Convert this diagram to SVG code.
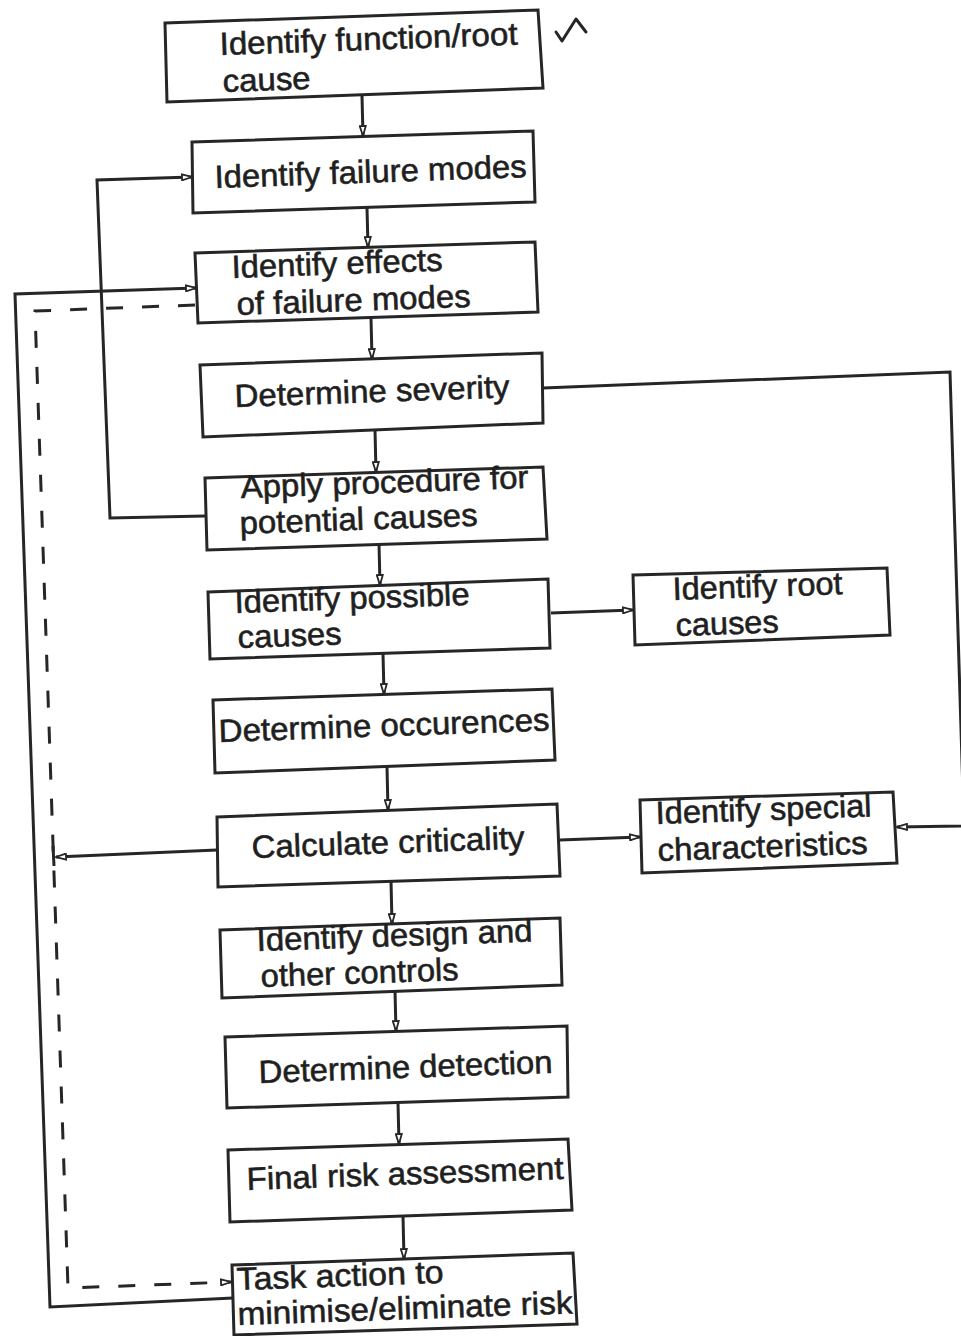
<svg xmlns="http://www.w3.org/2000/svg" width="961" height="1336" viewBox="0 0 961 1336">
  <style>
    .box { fill: none; stroke: #262626; stroke-width: 3; stroke-linejoin: miter; }
    .lbl { font-family: "Liberation Sans", Arial, sans-serif; font-size: 32px; fill: #1f1f1f; stroke: #1f1f1f; stroke-width: 0.6; }
    .wire { fill: none; stroke: #262626; stroke-width: 3; }
    .dash { fill: none; stroke: #262626; stroke-width: 3; stroke-dasharray: 17 19; }
  </style>
  <defs>
    <marker id="tip" viewBox="0 0 12 8" refX="11" refY="4" markerWidth="12" markerHeight="8" markerUnits="userSpaceOnUse" orient="auto">
      <path d="M1,1 L11,4 L1,7 Z" fill="#ffffff" stroke="#262626" stroke-width="1.8"/>
    </marker>
  </defs>

  <rect width="961" height="1336" fill="#ffffff"/>

  <!-- connectors -->
  <g id="connectors">
    <!-- main vertical chain -->
    <path class="wire" d="M362,96 L363,136" marker-end="url(#tip)"/>
    <path class="wire" d="M367,208 L368,247" marker-end="url(#tip)"/>
    <path class="wire" d="M371,318 L372,359" marker-end="url(#tip)"/>
    <path class="wire" d="M375,430 L376,472" marker-end="url(#tip)"/>
    <path class="wire" d="M379,544 L380,585" marker-end="url(#tip)"/>
    <path class="wire" d="M383,654 L384,694" marker-end="url(#tip)"/>
    <path class="wire" d="M387,767 L388,810" marker-end="url(#tip)"/>
    <path class="wire" d="M391,881 L392,924" marker-end="url(#tip)"/>
    <path class="wire" d="M395,991 L396,1031" marker-end="url(#tip)"/>
    <path class="wire" d="M398,1103 L399,1144" marker-end="url(#tip)"/>
    <path class="wire" d="M403,1216 L404,1259" marker-end="url(#tip)"/>

    <!-- potential causes loop back to failure modes -->
    <path class="wire" d="M205,516 L110,518 L97,180 L192,177" marker-end="url(#tip)"/>

    <!-- outer feedback from task action to effects -->
    <path class="wire" d="M233,1298 L50,1307 L15,294 L196,288" marker-end="url(#tip)"/>

    <!-- dashed feedback from effects to task action -->
    <path class="dash" d="M195,305 L35,311 L68,1288 L231,1282" marker-end="url(#tip)"/>

    <!-- criticality out to dashed loop -->
    <path class="wire" d="M217,850 L56,857" marker-end="url(#tip)"/>
    <path class="wire" d="M53,846 L54,866"/>

    <!-- side branches -->
    <path class="wire" d="M551,613 L633,610" marker-end="url(#tip)"/>
    <path class="wire" d="M560,840 L640,837" marker-end="url(#tip)"/>

    <!-- severity to special characteristics -->
    <path class="wire" d="M543,388 L950,372 L964,826 L897,827" marker-end="url(#tip)"/>
  </g>

  <!-- nodes -->
  <g id="n-function">
    <polygon class="box" points="165,23 538,10 543,88 167,102"/>
    <text class="lbl" x="220" y="55" textLength="298" lengthAdjust="spacingAndGlyphs" transform="rotate(-2 220 55)">Identify function/root</text>
    <text class="lbl" x="223" y="92" textLength="88" lengthAdjust="spacingAndGlyphs" transform="rotate(-2 223 92)">cause</text>
  </g>

  <g id="n-failure-modes">
    <polygon class="box" points="192,142 533,131 535,202 193,213"/>
    <text class="lbl" x="215" y="188" textLength="312" lengthAdjust="spacingAndGlyphs" transform="rotate(-2 215 188)">Identify failure modes</text>
  </g>

  <g id="n-effects">
    <polygon class="box" points="195,253 535,242 538,312 198,323"/>
    <text class="lbl" x="232" y="278" textLength="211" lengthAdjust="spacingAndGlyphs" transform="rotate(-2 232 278)">Identify effects</text>
    <text class="lbl" x="237" y="315" textLength="234" lengthAdjust="spacingAndGlyphs" transform="rotate(-2 237 315)">of failure modes</text>
  </g>

  <g id="n-severity">
    <polygon class="box" points="200,365 542,353 543,423 203,437"/>
    <text class="lbl" x="235" y="407" textLength="275" lengthAdjust="spacingAndGlyphs" transform="rotate(-2 235 407)">Determine severity</text>
  </g>

  <g id="n-procedure">
    <polygon class="box" points="205,478 543,467 547,539 207,550"/>
    <text class="lbl" x="241" y="498" textLength="288" lengthAdjust="spacingAndGlyphs" transform="rotate(-2 241 498)">Apply procedure for</text>
    <text class="lbl" x="240" y="534" textLength="238" lengthAdjust="spacingAndGlyphs" transform="rotate(-2 240 534)">potential causes</text>
  </g>

  <g id="n-possible-causes">
    <polygon class="box" points="208,592 548,579 550,648 210,659"/>
    <text class="lbl" x="235" y="613" textLength="235" lengthAdjust="spacingAndGlyphs" transform="rotate(-2 235 613)">Identify possible</text>
    <text class="lbl" x="238" y="648" textLength="104" lengthAdjust="spacingAndGlyphs" transform="rotate(-2 238 648)">causes</text>
  </g>

  <g id="n-root-causes">
    <polygon class="box" points="633,575 887,568 890,635 635,645"/>
    <text class="lbl" x="673" y="600" textLength="170" lengthAdjust="spacingAndGlyphs" transform="rotate(-2 673 600)">Identify root</text>
    <text class="lbl" x="676" y="636" textLength="103" lengthAdjust="spacingAndGlyphs" transform="rotate(-2 676 636)">causes</text>
  </g>

  <g id="n-occurences">
    <polygon class="box" points="213,700 552,689 555,760 215,773"/>
    <text class="lbl" x="219" y="742" textLength="331" lengthAdjust="spacingAndGlyphs" transform="rotate(-2 219 742)">Determine occurences</text>
  </g>

  <g id="n-criticality">
    <polygon class="box" points="217,817 557,804 560,876 218,887"/>
    <text class="lbl" x="252" y="858" textLength="273" lengthAdjust="spacingAndGlyphs" transform="rotate(-2 252 858)">Calculate criticality</text>
  </g>

  <g id="n-special">
    <polygon class="box" points="640,800 893,792 897,863 642,873"/>
    <text class="lbl" x="656" y="824" textLength="216" lengthAdjust="spacingAndGlyphs" transform="rotate(-2 656 824)">Identify special</text>
    <text class="lbl" x="658" y="861" textLength="210" lengthAdjust="spacingAndGlyphs" transform="rotate(-2 658 861)">characteristics</text>
  </g>

  <g id="n-controls">
    <polygon class="box" points="220,930 560,918 562,985 222,998"/>
    <text class="lbl" x="257" y="951" textLength="276" lengthAdjust="spacingAndGlyphs" transform="rotate(-2 257 951)">Identify design and</text>
    <text class="lbl" x="261" y="987" textLength="198" lengthAdjust="spacingAndGlyphs" transform="rotate(-2 261 987)">other controls</text>
  </g>

  <g id="n-detection">
    <polygon class="box" points="225,1037 567,1026 568,1097 227,1108"/>
    <text class="lbl" x="259" y="1083" textLength="294" lengthAdjust="spacingAndGlyphs" transform="rotate(-2 259 1083)">Determine detection</text>
  </g>

  <g id="n-risk">
    <polygon class="box" points="228,1150 568,1139 572,1210 230,1222"/>
    <text class="lbl" x="247" y="1190" textLength="317" lengthAdjust="spacingAndGlyphs" transform="rotate(-2 247 1190)">Final risk assessment</text>
  </g>

  <g id="n-action">
    <polygon class="box" points="232,1265 573,1253 577,1324 234,1335"/>
    <text class="lbl" x="237" y="1290" textLength="207" lengthAdjust="spacingAndGlyphs" transform="rotate(-2 237 1290)">Task action to</text>
    <text class="lbl" x="238" y="1325" textLength="335" lengthAdjust="spacingAndGlyphs" transform="rotate(-2 238 1325)">minimise/eliminate risk</text>
  </g>

  <!-- pen tick beside the first box -->
  <path d="M556,32 L562,41 L576,19 L586,32" fill="none" stroke="#262626" stroke-width="3" stroke-linejoin="round" stroke-linecap="round"/>
</svg>
